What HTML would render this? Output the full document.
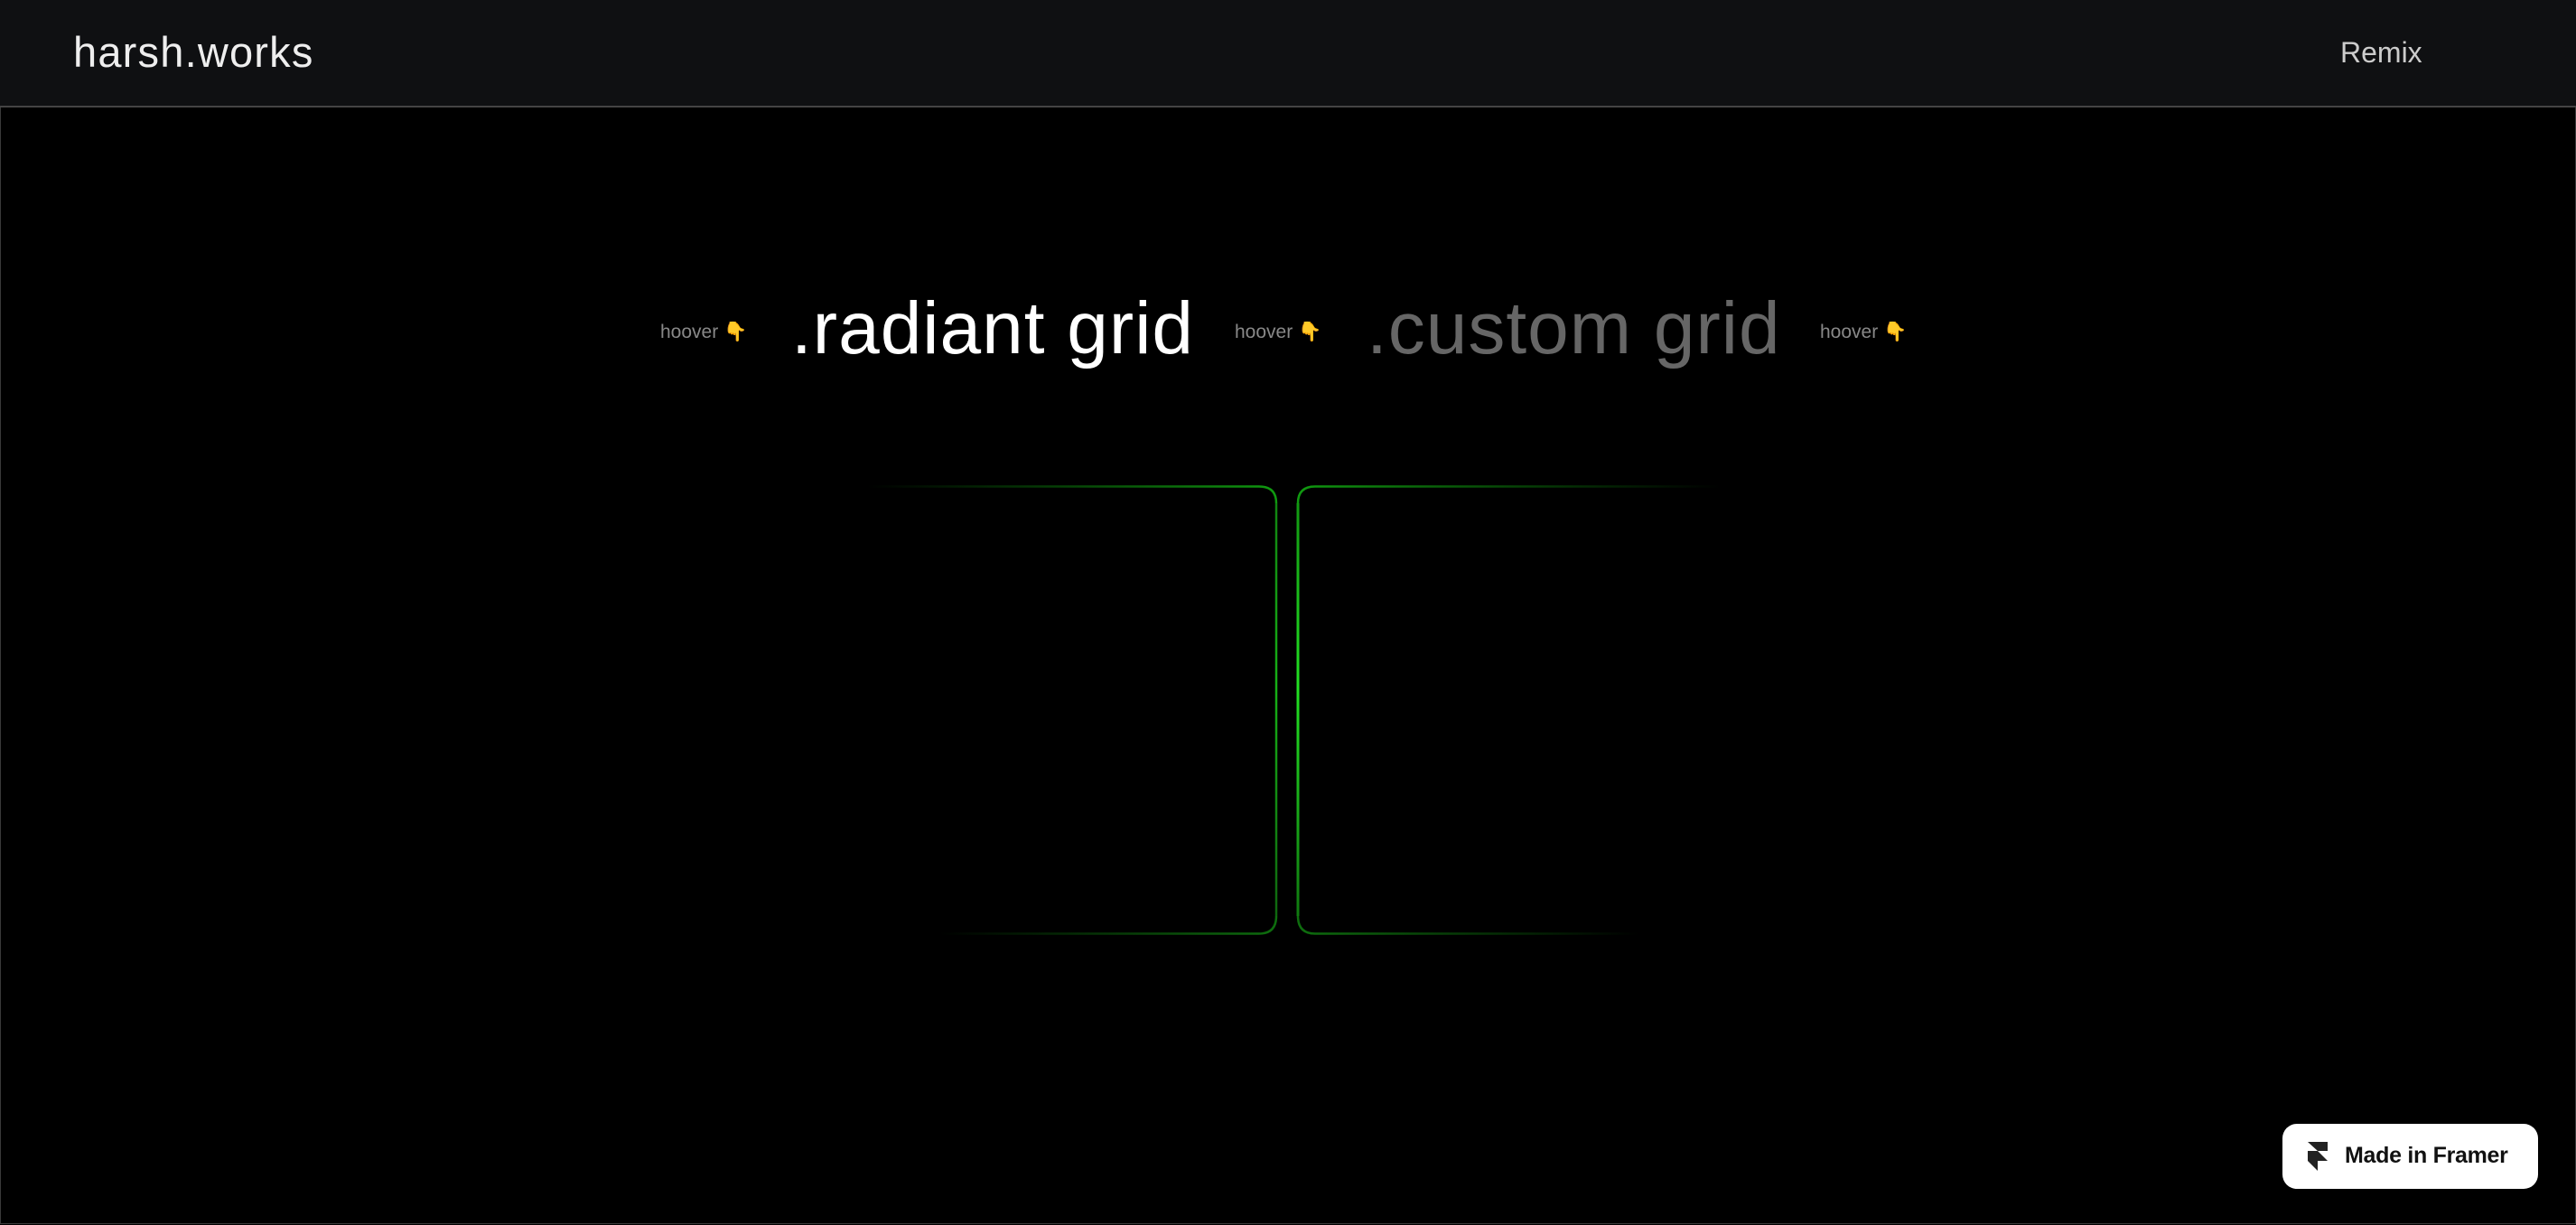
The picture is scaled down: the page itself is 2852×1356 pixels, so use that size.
<!DOCTYPE html>
<html><head><meta charset="utf-8"><style>
html,body{margin:0;padding:0;background:#000;width:2852px;height:1356px;overflow:hidden;font-family:"Liberation Sans","DejaVu Sans",sans-serif;}
.frame{position:absolute;left:0;top:0;width:2850px;height:1354px;border:1px solid #3a3a3a;border-top:none;}
.hdr{position:absolute;left:0;top:0;width:2852px;height:117px;background:#0f1012;border-bottom:2px solid #444;}
.logo{position:absolute;left:81px;top:30px;font-size:47px;color:#eee;letter-spacing:1.2px;}
.remix{position:absolute;left:2591px;top:40px;font-size:32px;color:#ccc;}
.t{position:absolute;white-space:nowrap;}
.h{font-size:21px;color:#888;top:356px;}
.h span{color:#c8962a;}
.big{font-size:82px;top:317px;letter-spacing:1px;}
.badge{position:absolute;left:2527px;top:1244px;width:283px;height:72px;background:#fff;border-radius:16px;}
.badge .txt{position:absolute;left:69px;top:21px;font-size:25px;font-weight:bold;color:#111;letter-spacing:-0.3px;}
</style></head><body>
<div class="frame"></div>
<div class="hdr"><div class="logo">harsh.works</div><div class="remix">Remix</div></div>
<div class="t h" style="left:731px">hoover <span>👇</span></div>
<div class="t big" style="left:876px;color:#fff">.radiant grid</div>
<div class="t h" style="left:1367px">hoover <span>👇</span></div>
<div class="t big" style="left:1513px;color:#666">.custom grid</div>
<div class="t h" style="left:2015px">hoover <span>👇</span></div>
<svg width="2852" height="1356" style="position:absolute;left:0;top:0">
<defs>
<linearGradient id="lt" x1="960" x2="1414" y1="0" y2="0" gradientUnits="userSpaceOnUse"><stop offset="0" stop-color="#0a7a0a" stop-opacity="0"/><stop offset="1" stop-color="#109a10"/></linearGradient>
<linearGradient id="lb" x1="1040" x2="1414" y1="0" y2="0" gradientUnits="userSpaceOnUse"><stop offset="0" stop-color="#0a6a0a" stop-opacity="0"/><stop offset="1" stop-color="#0e6e0e"/></linearGradient>
<linearGradient id="rt" x1="1437" x2="1905" y1="0" y2="0" gradientUnits="userSpaceOnUse"><stop offset="0" stop-color="#109a10"/><stop offset="1" stop-color="#0a7a0a" stop-opacity="0"/></linearGradient>
<linearGradient id="rb" x1="1437" x2="1815" y1="0" y2="0" gradientUnits="userSpaceOnUse"><stop offset="0" stop-color="#0e6e0e"/><stop offset="1" stop-color="#0a6a0a" stop-opacity="0"/></linearGradient>
<linearGradient id="vl" x1="0" x2="0" y1="537" y2="1035" gradientUnits="userSpaceOnUse"><stop offset="0" stop-color="#108010"/><stop offset="0.45" stop-color="#16b016"/><stop offset="1" stop-color="#0e600e"/></linearGradient>
<linearGradient id="vr" x1="0" x2="0" y1="537" y2="1035" gradientUnits="userSpaceOnUse"><stop offset="0" stop-color="#109010"/><stop offset="0.45" stop-color="#22e022"/><stop offset="1" stop-color="#0e700e"/></linearGradient>
</defs>
<g fill="none" stroke-width="2.5">
<path d="M960 538.5 H1394 Q1413 538.5 1413 557" stroke="url(#lt)"/>
<path d="M1413 557 V1014" stroke="url(#vl)"/>
<path d="M1413 1014 Q1413 1033.5 1394 1033.5 H1040" stroke="url(#lb)"/>
<path d="M1905 538.5 H1456 Q1437 538.5 1437 557" stroke="url(#rt)"/>
<path d="M1437 557 V1014" stroke="url(#vr)" stroke-width="3"/>
<path d="M1437 1014 Q1437 1033.5 1456 1033.5 H1815" stroke="url(#rb)"/>
</g>
</svg>
<div class="badge">
<svg width="26" height="32" style="position:absolute;left:28px;top:20px" viewBox="0 0 26 32"><path d="M0 0H22V10H11Z M0 10H11L22 21H11V32L0 21Z" fill="#222"/></svg>
<div class="txt">Made in Framer</div>
</div>
</body></html>
